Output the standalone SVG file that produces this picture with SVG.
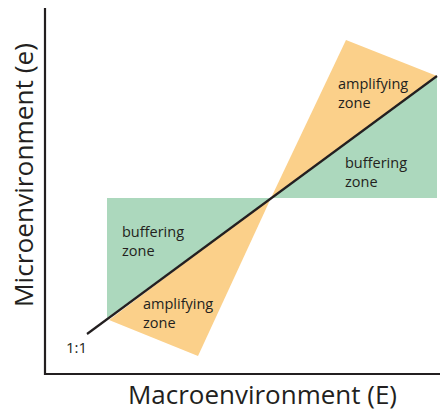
<svg xmlns="http://www.w3.org/2000/svg" width="440" height="416" viewBox="0 0 440 416">
<style>
.lbl{font-family:"Open Sans","Liberation Sans",sans-serif;font-size:14.5px;fill:#231f20}
.ax{font-family:"Open Sans","Liberation Sans",sans-serif;font-size:25px;fill:#231f20}
.buf{fill:#acd8bd}
.amp{fill:#fbd08a}
</style>
<rect width="440" height="416" fill="#fff"/>
<g id="buffering-zones">
<polygon class="buf" points="107,198 271,198 107,318"/>
<polygon class="buf" points="271,198 437,198 437,76"/>
</g>
<g id="amplifying-zones">
<polygon class="amp" points="271,198 346,40 437,76"/>
<polygon class="amp" points="271,198 198,356 109,320"/>
</g>
<g id="connectors">
<line x1="87" y1="334" x2="437" y2="76" stroke="#231f20" stroke-width="2.2"/>
<polyline points="45,8 45,374 440,374" fill="none" stroke="#231f20" stroke-width="2.2"/>
</g>
<g id="labels">
<text class="lbl" x="338" y="89">amplifying</text>
<text class="lbl" x="338" y="108">zone</text>
<text class="lbl" x="345" y="168">buffering</text>
<text class="lbl" x="345" y="187">zone</text>
<text class="lbl" x="122" y="237">buffering</text>
<text class="lbl" x="122" y="256">zone</text>
<text class="lbl" x="143" y="309">amplifying</text>
<text class="lbl" x="143" y="328">zone</text>
<text class="lbl" x="66" y="353" style="font-size:15px">1:1</text>
</g>
<g id="axis-labels">
<text class="ax" x="128" y="404" textLength="269" lengthAdjust="spacingAndGlyphs">Macroenvironment (E)</text>
<text class="ax" transform="translate(33,307) rotate(-90)" textLength="264" lengthAdjust="spacingAndGlyphs">Microenvironment (e)</text>
</g>
</svg>
